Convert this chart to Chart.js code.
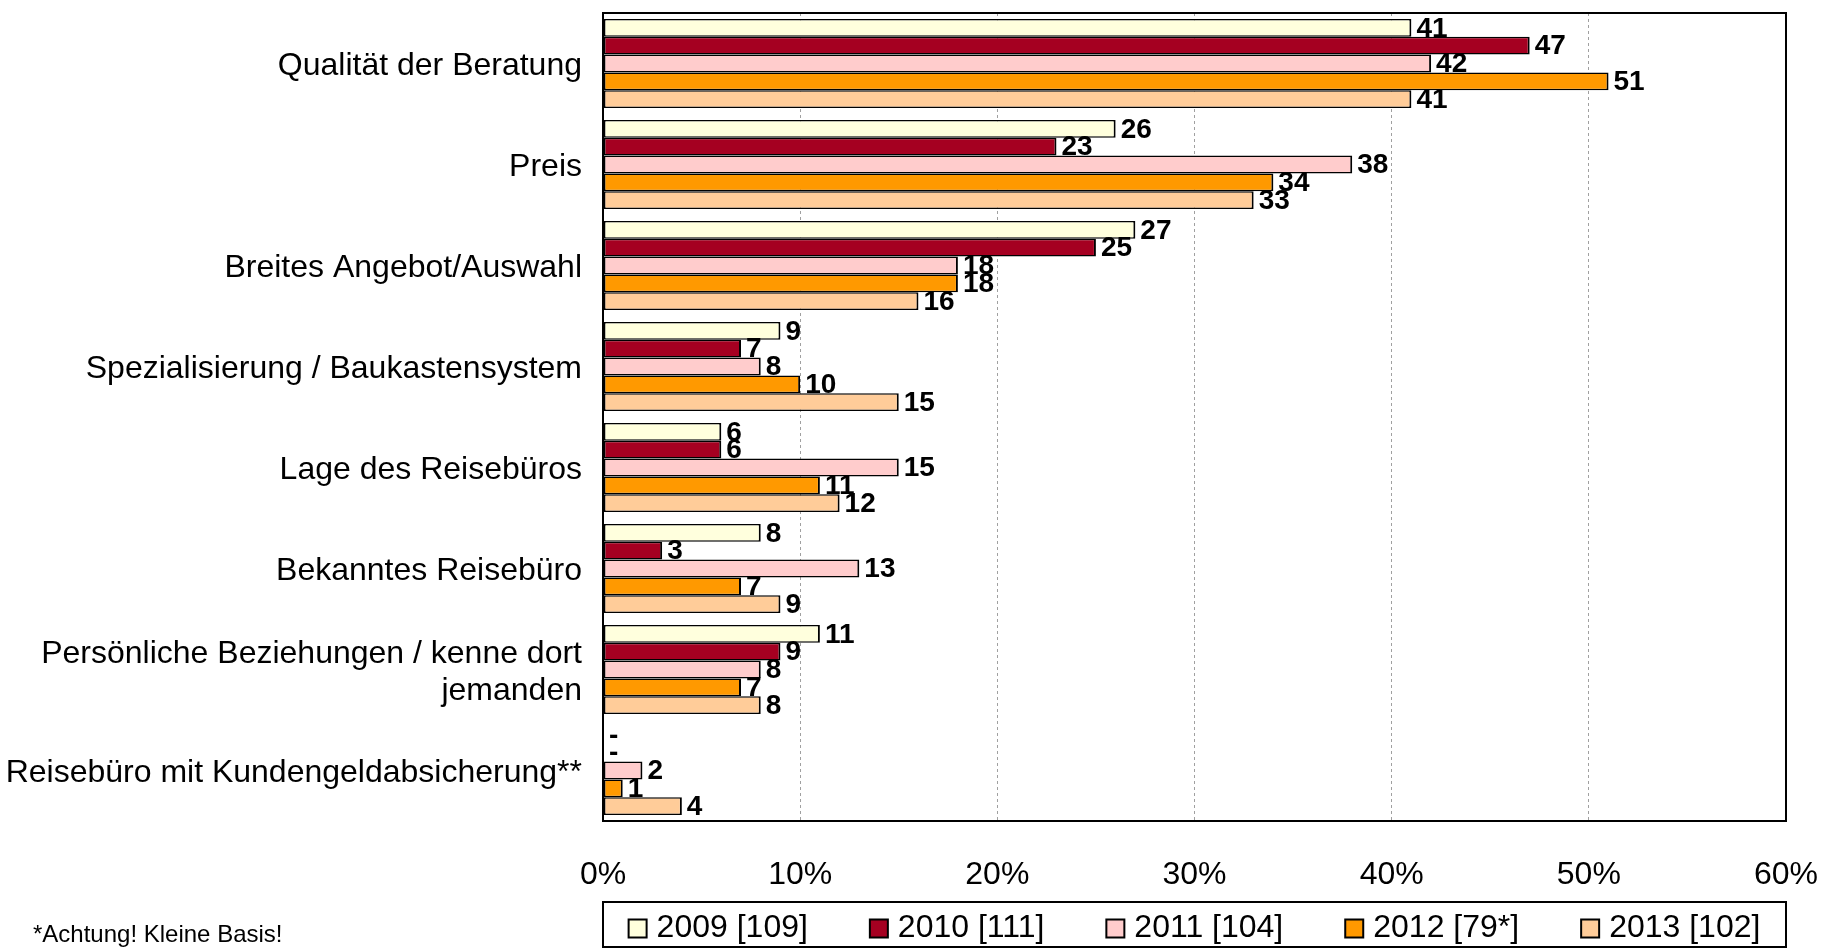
<!DOCTYPE html>
<html>
<head>
<meta charset="utf-8">
<script src="https://cdn.jsdelivr.net/npm/chart.js@4/dist/chart.umd.min.js"></script>
<style>
html,body{margin:0;padding:0;background:#fff;}
#wrap{position:relative;width:1837px;height:950px;}
#note{position:absolute;left:33px;top:922px;font-family:"Liberation Sans",Arial,sans-serif;font-size:24px;line-height:24px;color:#000;white-space:nowrap;}
</style>
</head>
<body>
<div id="wrap">
<canvas id="c" width="1837" height="950"></canvas>
<div id="note">*Achtung! Kleine Basis!</div>
</div>
<script>
const categories = [
  'Qualität der Beratung',
  'Preis',
  'Breites Angebot/Auswahl',
  'Spezialisierung / Baukastensystem',
  'Lage des Reisebüros',
  'Bekanntes Reisebüro',
  ['Persönliche Beziehungen / kenne dort', 'jemanden'],
  'Reisebüro mit Kundengeldabsicherung**'
];
const seriesNames = ['2009 [109]', '2010 [111]', '2011 [104]', '2012 [79*]', '2013 [102]'];
const s2009 = [41, 26, 27, 9, 6, 8, 11, null];
const s2010 = [47, 23, 25, 7, 6, 3, 9, null];
const s2011 = [42, 38, 18, 8, 15, 13, 8, 2];
const s2012 = [51, 34, 18, 10, 11, 7, 7, 1];
const s2013 = [41, 33, 16, 15, 12, 9, 8, 4];
const xTickValues = [0, 10, 20, 30, 40, 50, 60];
const missingLabel = '-';

const colors = ['#FFFFDD', '#A50021', '#FFCCCC', '#FF9900', '#FFCC99'];
const FONT = '"Liberation Sans", Arial, sans-serif';

const seriesData = [s2009, s2010, s2011, s2012, s2013];
const datasets = seriesData.map((d, i) => ({
  label: seriesNames[i],
  data: d,
  backgroundColor: colors[i],
  borderColor: '#000',
  borderWidth: {top: 1.5, bottom: 1.5, left: 2, right: 2},
  borderSkipped: false,
  barPercentage: 1.0,
  categoryPercentage: 0.88
}));

const valueLabels = {
  id: 'valueLabels',
  afterDatasetsDraw(chart) {
    const ctx = chart.ctx;
    const xs = chart.scales.x;
    ctx.save();
    ctx.font = 'bold 28px ' + FONT;
    ctx.fillStyle = '#000';
    ctx.textAlign = 'left';
    ctx.textBaseline = 'middle';
    chart.data.datasets.forEach((ds, di) => {
      const meta = chart.getDatasetMeta(di);
      meta.data.forEach((el, i) => {
        const v = ds.data[i];
        let x, txt;
        if (v === null || v === undefined) {
          x = xs.getPixelForValue(0) + 6;
          txt = missingLabel;
        } else {
          x = el.x + 5;
          txt = String(v);
        }
        ctx.fillText(txt, x, el.y + 1);
      });
    });
    ctx.restore();
  }
};

const frameAndLegend = {
  id: 'frameAndLegend',
  afterDraw(chart) {
    const ctx = chart.ctx;
    const a = chart.chartArea;
    ctx.save();
    ctx.strokeStyle = '#000';
    ctx.lineWidth = 2;
    ctx.strokeRect(a.left, a.top, a.right - a.left, a.bottom - a.top);
    const boxTop = chart.height - 48;
    const boxH = 45;
    ctx.strokeRect(a.left, boxTop, a.right - a.left, boxH);
    ctx.font = '32px ' + FONT;
    ctx.textBaseline = 'middle';
    ctx.textAlign = 'left';
    const sq = 18, gapSq = 10, gapItem = 62;
    const widths = chart.data.datasets.map(d => ctx.measureText(d.label).width);
    let total = widths.reduce((s, w) => s + w + sq + gapSq, 0) + gapItem * (widths.length - 1);
    let x = a.left + ((a.right - a.left) - total) / 2;
    const cy = boxTop + boxH / 2 + 3;
    chart.data.datasets.forEach((d, i) => {
      ctx.fillStyle = d.backgroundColor;
      ctx.fillRect(x, cy - sq / 2 + 1, sq, sq);
      ctx.lineWidth = 2;
      ctx.strokeRect(x, cy - sq / 2 + 1, sq, sq);
      ctx.fillStyle = '#000';
      ctx.fillText(d.label, x + sq + gapSq, cy + 1);
      x += sq + gapSq + widths[i] + gapItem;
    });
    ctx.restore();
  }
};

new Chart(document.getElementById('c'), {
  type: 'bar',
  data: {labels: categories, datasets: datasets},
  options: {
    indexAxis: 'y',
    responsive: false,
    animation: false,
    layout: {padding: {top: 13, right: 51, bottom: 0, left: 0}},
    plugins: {legend: {display: false}, tooltip: {enabled: false}},
    scales: {
      x: {
        min: 0, max: 60,
        afterFit(s) { s.height = 129; s.paddingLeft = 0; s.paddingRight = 0; },
        afterBuildTicks(s) { s.ticks = xTickValues.map(v => ({value: v})); },
        ticks: {
          padding: 35,
          color: '#000',
          font: {family: FONT, size: 32, lineHeight: 1.2},
          callback: v => v + '%',
          maxRotation: 0
        },
        grid: {color: '#a0a0a0', lineWidth: 1, drawTicks: false},
        border: {display: false, dash: [3, 3]}
      },
      y: {
        afterFit(s) { s.width = 603; s.paddingTop = 0; s.paddingBottom = 0; },
        ticks: {
          padding: 21,
          labelOffset: 3,
          color: '#000',
          font: {family: FONT, size: 32, lineHeight: 1.15}
        },
        grid: {display: false, drawTicks: false},
        border: {display: false}
      }
    }
  },
  plugins: [valueLabels, frameAndLegend]
});
</script>
</body>
</html>
